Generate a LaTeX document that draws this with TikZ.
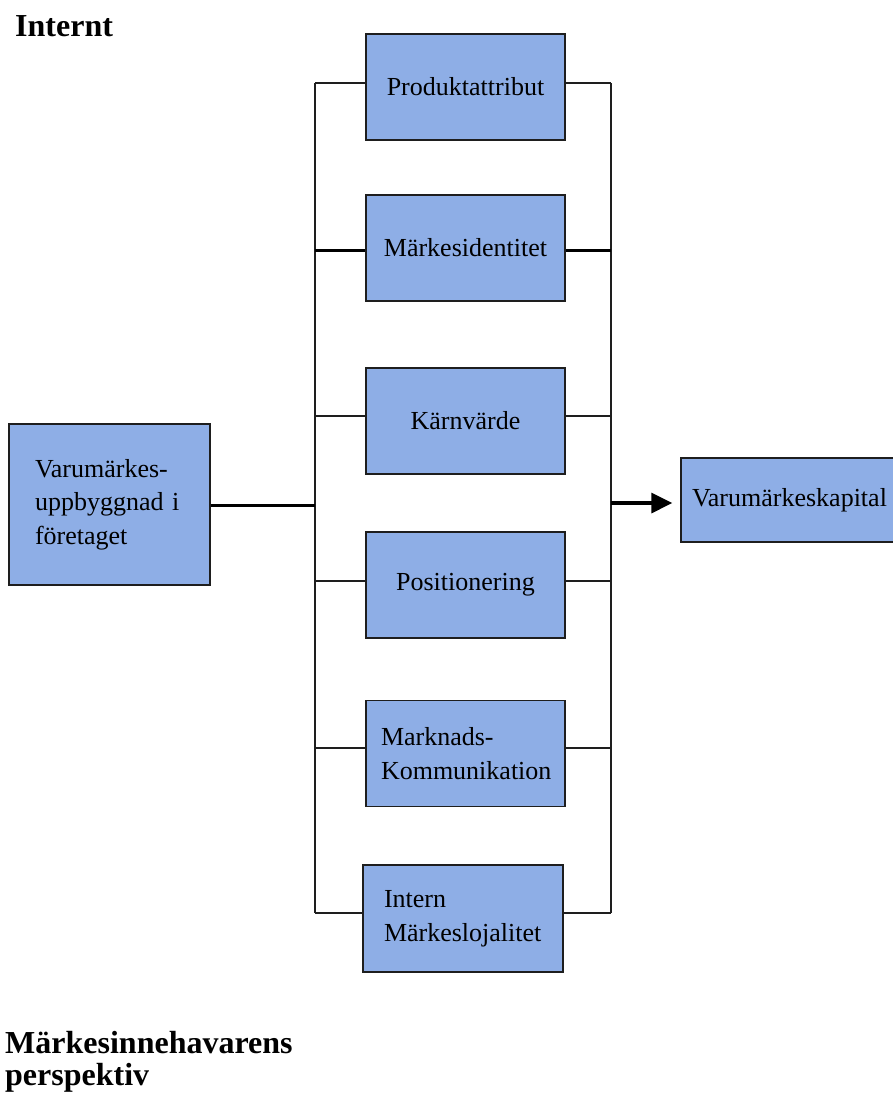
\documentclass[tikz,border=0pt]{standalone}
\usepackage{fontspec}
\setmainfont{Liberation Serif}
\usetikzlibrary{arrows.meta}
\definecolor{boxfill}{HTML}{8EAEE6}
\definecolor{boxline}{HTML}{1E1E1E}
\hyphenpenalty=10000
\exhyphenpenalty=10000
\begin{document}
\begin{tikzpicture}[x=1pt,y=-1pt,
  box/.style={draw=boxline, line width=1.3pt, fill=boxfill, minimum height=106pt,
    inner ysep=0pt, font=\fontsize{26}{33.5}\selectfont},
  cbox/.style={box, inner xsep=15pt, text width=169pt, align=center},
  lbox/.style={box, align=left},
  title/.style={inner sep=0pt, font=\fontsize{32}{32}\selectfont\bfseries},
  thinline/.style={line width=1.3pt, draw=boxline},
  thickline/.style={line width=3pt, draw=black},
  arrowline/.style={line width=3.2pt, draw=black, -{Triangle[length=21pt,width=20pt]}, shorten >=8pt}]
\useasboundingbox (0,0) rectangle (892,1095);

% titles
\node[title, anchor=base west] (tint) at (15,36) {Internt};
\node[title, anchor=base west] (tmark) at (5,1053) {Märkesinnehavarens};
\node[title, anchor=base west] (tpersp) at (5,1085) {perspektiv};

% boxes
\node[cbox] (prod) at (465.5,87) {Produktattribut};
\node[cbox] (ident) at (465.5,248) {Märkesidentitet};
\node[cbox] (karn) at (465.5,421) {Kärnvärde};
\node[cbox] (pos) at (465.5,585) {Positionering};
\node[lbox, inner xsep=15pt, text width=169pt] (mk) at (465.5,753.5) {Marknads-\\Kommunikation};
\node[lbox, inner xsep=21pt, text width=158pt, minimum height=107pt] (intern) at (463,918.5) {Intern\\Märkeslojalitet};
\node[lbox, inner xsep=26pt, text width=149pt, minimum height=161pt] (vb) at (109.5,504.5) {Varumärkes-\\uppbyggnad i\\företaget};
\node[lbox, inner xsep=11pt, text width=208pt, minimum height=84pt] (vk) at (796,500) {Varumärkeskapital};

% bus coordinates
\coordinate (l1) at (315,83);  \coordinate (r1) at (611,83);
\coordinate (l2) at (315,250); \coordinate (r2) at (611,250);
\coordinate (l3) at (315,416); \coordinate (r3) at (611,416);
\coordinate (l4) at (315,581); \coordinate (r4) at (611,581);
\coordinate (l5) at (315,748); \coordinate (r5) at (611,748);
\coordinate (l6) at (315,913); \coordinate (r6) at (611,913);
\coordinate (lm) at (315,505);
\coordinate (rm) at (611,503);

% buses
\draw[thinline] (l1) -- (l6);
\draw[thinline] (r1) -- (r6);

% stubs
\draw[thinline] (l1) -- (l1 -| prod.west);
\draw[thinline] (r1) -- (r1 -| prod.east);
\draw[thickline] (l2) -- (l2 -| ident.west);
\draw[thickline] (r2) -- (r2 -| ident.east);
\draw[thinline] (l3) -- (l3 -| karn.west);
\draw[thinline] (r3) -- (r3 -| karn.east);
\draw[thinline] (l4) -- (l4 -| pos.west);
\draw[thinline] (r4) -- (r4 -| pos.east);
\draw[thinline] (l5) -- (l5 -| mk.west);
\draw[thinline] (r5) -- (r5 -| mk.east);
\draw[thinline] (l6) -- (l6 -| intern.west);
\draw[thinline] (r6) -- (r6 -| intern.east);

% main connectors
\draw[thickline] (vb.east |- lm) -- (lm);
\draw[arrowline] (rm) -- (rm -| vk.west);
\end{tikzpicture}
\end{document}
